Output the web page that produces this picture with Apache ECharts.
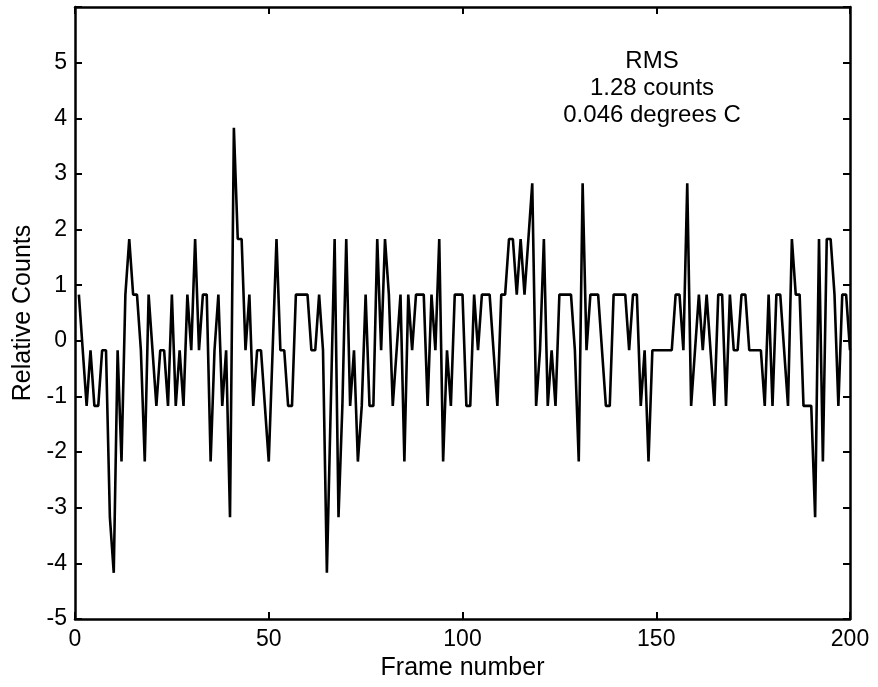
<!DOCTYPE html>
<html>
<head>
<meta charset="utf-8">
<script src="https://cdn.jsdelivr.net/npm/echarts@6/dist/echarts.min.js"></script>
<style>
html,body{margin:0;padding:0;background:#fff;}
#c{width:878px;height:687px;}
</style>
</head>
<body>
<div id="c"></div>
<script>
// Relative counts per frame (frames 1..200)
const counts = [
 0.83,-0.17,-1.17,-0.17,-1.17,-1.17,-0.17,-0.17,-3.17,-4.17,
 -0.17,-2.17,0.83,1.83,0.83,0.83,-0.17,-2.17,0.83,-0.17,
 -1.17,-0.17,-0.17,-1.17,0.83,-1.17,-0.17,-1.17,0.83,-0.17,
 1.83,-0.17,0.83,0.83,-2.17,-0.17,0.83,-1.17,-0.17,-3.17,
 3.83,1.83,1.83,-0.17,0.83,-1.17,-0.17,-0.17,-1.17,-2.17,
 -0.17,1.83,-0.17,-0.17,-1.17,-1.17,0.83,0.83,0.83,0.83,
 -0.17,-0.17,0.83,-0.17,-4.17,-1.17,1.83,-3.17,-1.17,1.83,
 -1.17,-0.17,-2.17,-1.17,0.83,-1.17,-1.17,1.83,-0.17,1.83,
 0.83,-1.17,-0.17,0.83,-2.17,0.83,-0.17,0.83,0.83,0.83,
 -1.17,0.83,-0.17,1.83,-2.17,-0.17,-1.17,0.83,0.83,0.83,
 -1.17,-1.17,0.83,-0.17,0.83,0.83,0.83,-0.17,-1.17,0.83,
 0.83,1.83,1.83,0.83,1.83,0.83,1.83,2.83,-1.17,-0.17,
 1.83,-1.17,-0.17,-1.17,0.83,0.83,0.83,0.83,-0.17,-2.17,
 2.83,-0.17,0.83,0.83,0.83,-0.17,-1.17,-1.17,0.83,0.83,
 0.83,0.83,-0.17,0.83,0.83,-1.17,-0.17,-2.17,-0.17,-0.17,
 -0.17,-0.17,-0.17,-0.17,0.83,0.83,-0.17,2.83,-1.17,-0.17,
 0.83,-0.17,0.83,-0.17,-1.17,0.83,0.83,-1.17,0.83,-0.17,
 -0.17,0.83,0.83,-0.17,-0.17,-0.17,-0.17,-1.17,0.83,-1.17,
 0.83,0.83,-0.17,-1.17,1.83,0.83,0.83,-1.17,-1.17,-1.17,
 -3.17,1.83,-2.17,1.83,1.83,0.83,-1.17,0.83,0.83,-0.17
];
const firstFrame = 1;
const xTicks = [0, 50, 100, 150, 200];
const yTicks = [-5,-4,-3,-2,-1,0,1,2,3,4,5];
const annotation = ['RMS', '1.28 counts', '0.046 degrees C'];

const font = 'Liberation Sans, Arial, Helvetica, sans-serif';
const seriesData = counts.map((v, i) => [firstFrame + i, v]);

const chart = echarts.init(document.getElementById('c'), null, {renderer: 'canvas'});
const axisLine = {show: true, onZero: false, lineStyle: {color: '#000', width: 2.5}};
const tickIn = {show: true, inside: true, length: 7, lineStyle: {color: '#000', width: 2}};

chart.setOption({
  animation: false,
  backgroundColor: '#fff',
  grid: {left: 75, right: 28, top: 7, bottom: 68, containLabel: false},
  xAxis: [
    {
      type: 'value', min: 0, max: 200, interval: 50, position: 'bottom',
      name: 'Frame number', nameLocation: 'middle', nameGap: 26,
      nameTextStyle: {fontFamily: font, fontSize: 25, color: '#000'},
      axisLine: axisLine, axisTick: tickIn, splitLine: {show: false},
      axisLabel: {fontFamily: font, fontSize: 23, color: '#000', margin: 9,
        formatter: v => xTicks.includes(v) ? String(v) : ''}
    },
    {
      type: 'value', min: 0, max: 200, interval: 50, position: 'top',
      axisLine: axisLine, axisTick: tickIn, splitLine: {show: false},
      axisLabel: {show: false}
    }
  ],
  yAxis: [
    {
      type: 'value', min: -5, max: 6, interval: 1, position: 'left',
      name: 'Relative Counts', nameLocation: 'middle', nameGap: 39,
      nameTextStyle: {fontFamily: font, fontSize: 25, color: '#000'},
      axisLine: axisLine, axisTick: tickIn, splitLine: {show: false},
      axisLabel: {fontFamily: font, fontSize: 23, color: '#000', margin: 8,
        formatter: v => yTicks.includes(v) ? String(v) : ''}
    },
    {
      type: 'value', min: -5, max: 6, interval: 1, position: 'right',
      axisLine: axisLine, axisTick: tickIn, splitLine: {show: false},
      axisLabel: {show: false}
    }
  ],
  graphic: [{
    type: 'text', left: 652 - 100, top: 48,
    style: {
      text: annotation.join('\n'), width: 200, align: 'center',
      x: 100, textAlign: 'center',
      fontFamily: font, fontSize: 24, lineHeight: 27, fill: '#000'
    }
  }],
  series: [{
    type: 'line', xAxisIndex: 0, yAxisIndex: 0, data: seriesData,
    showSymbol: false, symbol: 'none',
    lineStyle: {color: '#000', width: 2.6}
  }]
});
</script>
</body>
</html>
